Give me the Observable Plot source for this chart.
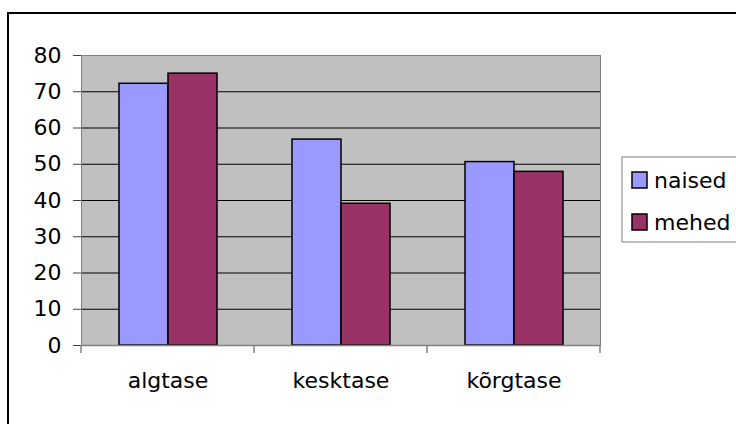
<!DOCTYPE html>
<html><head><meta charset="utf-8">
<script src="https://cdn.jsdelivr.net/npm/d3@7"></script>
<script src="https://cdn.jsdelivr.net/npm/@observablehq/plot@0.6"></script>
<style>body{margin:0;background:#fff} svg{display:block}</style>
</head><body><div id="chart"></div>
<script>
const categories = ["algtase", "kesktase", "kõrgtase"];
const seriesNames = ["naised", "mehed"];
const naised = [72.2, 56.8, 50.6];
const mehed = [75.0, 39.1, 47.9];
const seriesColors = ["#9999FF", "#993366"];
const yTicks = [0, 10, 20, 30, 40, 50, 60, 70, 80];

const data = categories.flatMap((c, i) => [
  {category: c, series: seriesNames[0], value: naised[i]},
  {category: c, series: seriesNames[1], value: mehed[i]}
]);

const font = "'DejaVu Sans', sans-serif";
const fs = 22;

const plot = Plot.plot({
  width: 736, height: 424,
  marginLeft: 80, marginRight: 136, marginTop: 55, marginBottom: 79,
  style: {fontFamily: font, fontSize: fs + "px", background: "white", color: "black"},
  fx: {domain: categories, padding: 0, label: null},
  x: {domain: seriesNames, paddingInner: 0, paddingOuter: 0.733, axis: null},
  y: {domain: [0, 80], label: null},
  color: {domain: seriesNames, range: seriesColors},
  marks: [
    Plot.frame({fill: "#c0c0c0", facet: "super"}),
    Plot.ruleY(yTicks.slice(1, -1), {stroke: "black", strokeWidth: 1}),
    Plot.barY(data, {fx: "category", x: "series", y: "value", fill: "series", stroke: "black", strokeWidth: 1.5, inset: 0}),
    Plot.frame({stroke: "#808080", facet: "super"}),
    Plot.ruleY([0], {stroke: "#808080", strokeWidth: 1.5}),
    Plot.axisY({ticks: yTicks, tickSize: 8, tickPadding: 12, fontSize: fs, stroke: "#404040", label: null}),
    Plot.axisFx({anchor: "bottom", tickSize: 0, tickPadding: 27, fontSize: fs, label: null})
  ]
});

document.getElementById("chart").appendChild(plot);

const svg = d3.select(plot);
const fx = plot.scale("fx");
const y = plot.scale("y");
const y0 = y.apply(0);
const edges = categories.map(c => fx.apply(c)).concat([fx.apply(categories[categories.length - 1]) + fx.bandwidth]);
svg.append("g").selectAll("line").data(edges).join("line")
  .attr("x1", d => d).attr("x2", d => d)
  .attr("y1", y0).attr("y2", y0 + 8)
  .attr("stroke", "#808080").attr("stroke-width", 1.5);

// legend
const lg = svg.append("g").attr("font-family", font).attr("font-size", fs).attr("text-anchor", "start");
lg.append("rect").attr("x", 622).attr("y", 157).attr("width", 130).attr("height", 85)
  .attr("fill", "white").attr("stroke", "#808080").attr("stroke-width", 1);
seriesNames.forEach((s, i) => {
  const cy = 180 + i * 42;
  lg.append("rect").attr("x", 632).attr("y", cy - 8).attr("width", 15).attr("height", 16)
    .attr("fill", seriesColors[i]).attr("stroke", "black").attr("stroke-width", 1.5);
  lg.append("text").attr("x", 654).attr("y", cy).attr("dy", "0.35em").text(s);
});

// outer chart border
svg.append("rect").attr("x", 8).attr("y", 13).attr("width", 760).attr("height", 440)
  .attr("fill", "none").attr("stroke", "black").attr("stroke-width", 2);
</script>
</body></html>
